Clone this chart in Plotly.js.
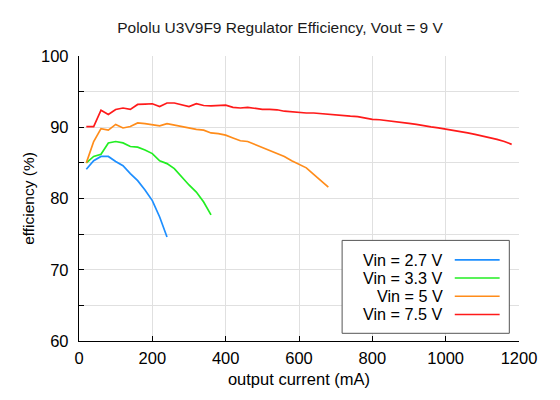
<!DOCTYPE html>
<html>
<head>
<meta charset="utf-8">
<script src="https://cdn.plot.ly/plotly-3.0.1.min.js"></script>
<style>
  html, body { margin: 0; padding: 0; background: #fff; }
  #chart { width: 560px; height: 400px; }
</style>
</head>
<body>
<div id="chart"></div>
<script>
// ── Data (output current mA, efficiency %) ────────────────────────────────
const seriesNames = ['Vin = 2.7 V', 'Vin = 3.3 V', 'Vin = 5 V', 'Vin = 7.5 V'];
const seriesColors = ['#1e8fff', '#22ee22', '#ff8c1a', '#ff1a1a'];

const x27 = [20, 40, 60, 80, 100, 120, 140, 160, 180, 200, 220, 240];
const y27 = [84.1, 85.3, 85.9, 85.9, 85.2, 84.6, 83.5, 82.5, 81.2, 79.7, 77.4, 74.6];

const x33 = [20, 40, 60, 80, 100, 120, 140, 160, 180, 200, 220, 240, 260, 280, 300, 320, 340, 360];
const y33 = [85.0, 85.9, 86.2, 87.8, 88.0, 87.8, 87.3, 87.2, 86.8, 86.3, 85.3, 84.9,
             84.2, 83.0, 81.9, 80.9, 79.5, 77.7];

const x50 = [20, 40, 60, 80, 100, 120, 140, 160, 180, 200, 220, 240, 260, 280, 300, 320, 340,
             360, 380, 400, 420, 440, 460, 480, 500, 520, 540, 560, 580, 600, 620, 640, 660, 680];
const y50 = [85.0, 88.0, 89.8, 89.6, 90.4, 89.9, 90.1, 90.6, 90.5, 90.4, 90.2, 90.5, 90.3, 90.1,
             89.8, 89.7, 89.6, 89.2, 89.1, 88.9, 88.5, 88.1, 88.0, 87.6, 87.2, 86.8, 86.4, 85.9,
             85.3, 84.8, 84.3, 83.4, 82.5, 81.6];

const x75 = [20, 40, 60, 80, 100, 120, 140, 160, 180, 200, 220, 240, 260, 280, 300, 320, 340,
             360, 380, 400, 420, 440, 460, 480, 500, 520, 540, 560, 580, 600, 620, 640, 660, 680,
             700, 720, 740, 760, 780, 800, 820, 840, 860, 880, 900, 920, 940, 960, 980, 1000,
             1020, 1040, 1060, 1080, 1100, 1120, 1140, 1160, 1180];
const y75 = [90.1, 90.1, 92.4, 91.8, 92.5, 92.7, 92.5, 93.2, 93.25, 93.3, 92.9, 93.4, 93.4, 93.2,
             92.9, 93.3, 93.05, 93.0, 93.1, 93.1, 92.8, 92.7, 92.8, 92.6, 92.5, 92.5, 92.45, 92.25,
             92.15, 92.1, 92.0, 92.0, 91.9, 91.85, 91.65, 91.6, 91.55, 91.5, 91.3, 91.1, 91.05,
             90.95, 90.8, 90.7, 90.55, 90.4, 90.27, 90.05, 89.9, 89.75, 89.6, 89.4, 89.2, 89.0,
             88.8, 88.55, 88.3, 88.0, 87.6];

const xs = [x27, x33, x50, x75];
const ys = [y27, y33, y50, y75];

const FONT = 'Liberation Sans, Arial, sans-serif';
const GRID = '#e0e0e0';

const traces = xs.map((x, i) => ({
    type: 'scatter', mode: 'lines',
    x: x, y: ys[i], name: seriesNames[i],
    line: { color: seriesColors[i], width: 1.7 },
    showlegend: false, hoverinfo: 'x+y'
}));

// ── Hand-built legend: text right-aligned, line sample on the right ────────
const LEG = { x0: 0.598, x1: 0.978, y0: 0.027, y1: 0.353, rowTop: 0.285, rowStep: 0.064,
              textRight: 0.831, lineX0: 0.854, lineX1: 0.956 };
const shapes = [{
    type: 'rect', xref: 'paper', yref: 'paper',
    x0: LEG.x0, x1: LEG.x1, y0: LEG.y0, y1: LEG.y1,
    line: { color: '#555', width: 1 }, fillcolor: '#fff', layer: 'above'
}];
const annotations = [];
seriesNames.forEach((name, i) => {
    const yy = LEG.rowTop - i * LEG.rowStep;
    shapes.push({
        type: 'line', xref: 'paper', yref: 'paper',
        x0: LEG.lineX0, x1: LEG.lineX1, y0: yy, y1: yy,
        line: { color: seriesColors[i], width: 1.7 }, layer: 'above'
    });
    annotations.push({
        xref: 'paper', yref: 'paper', x: LEG.textRight, y: yy,
        xanchor: 'right', yanchor: 'middle', showarrow: false,
        text: name, font: { family: FONT, size: 16.2, color: '#000' }
    });
});

const layout = {
    width: 560, height: 400,
    margin: { l: 79, r: 41, t: 56, b: 59 },
    paper_bgcolor: '#fff', plot_bgcolor: '#fff',
    font: { family: FONT, size: 16.5, color: '#000' },
    title: {
        text: 'Pololu U3V9F9 Regulator Efficiency, Vout = 9 V',
        font: { family: FONT, size: 15.5, color: '#1a1a1a' },
        x: 0.5, xref: 'container', y: 0.93, yref: 'container', yanchor: 'middle'
    },
    xaxis: {
        range: [0, 1200], dtick: 200, tick0: 0,
        showgrid: true, gridcolor: GRID, gridwidth: 1,
        showline: true, linecolor: '#000', linewidth: 1.2,
        ticks: 'inside', ticklen: 5, tickcolor: '#000',
        tickfont: { family: FONT, size: 16.5 },
        ticklabelstandoff: 2,
        zeroline: false,
        title: { text: 'output current (mA)', font: { family: FONT, size: 16.5 }, standoff: 7 }
    },
    yaxis: {
        range: [60, 100], dtick: 10, tick0: 60,
        showgrid: true, gridcolor: GRID, gridwidth: 1,
        showline: true, linecolor: '#000', linewidth: 1.2,
        ticks: 'inside', ticklen: 5, tickcolor: '#000',
        tickfont: { family: FONT, size: 16.5 },
        ticklabelstandoff: 6,
        minor: { dtick: 5, showgrid: true, gridcolor: GRID, ticks: 'inside', ticklen: 5, tickcolor: '#000' },
        zeroline: false,
        title: { text: 'efficiency (%)', font: { family: FONT, size: 15.5 }, standoff: 2 }
    },
    shapes: shapes,
    annotations: annotations
};

Plotly.newPlot('chart', traces, layout, { displayModeBar: false, staticPlot: true });
</script>
</body>
</html>
